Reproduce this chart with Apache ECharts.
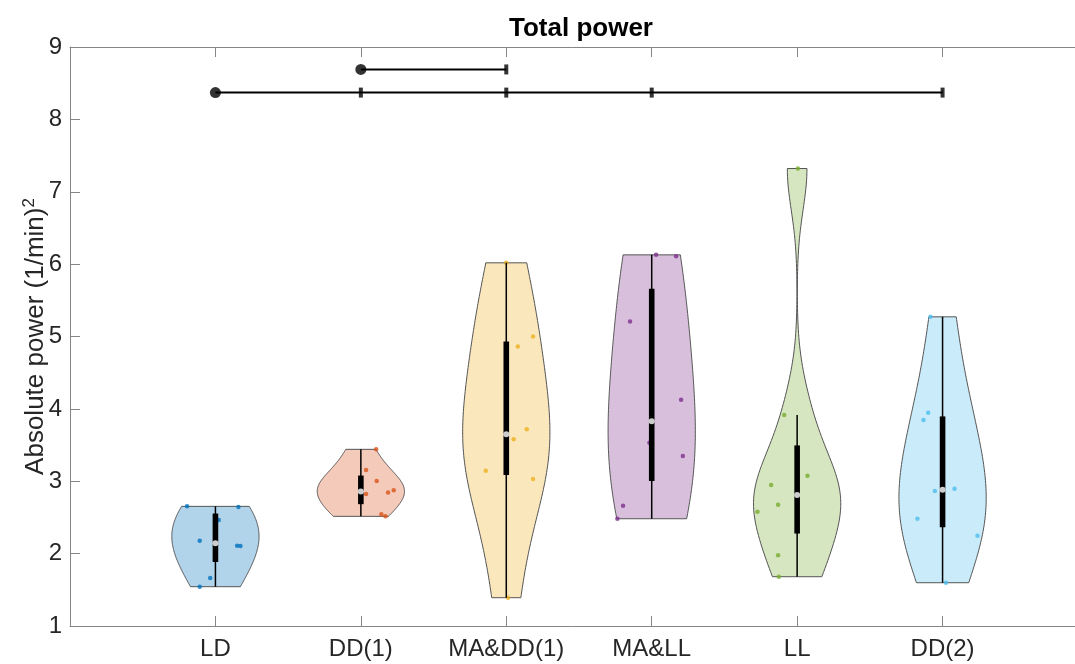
<!DOCTYPE html>
<html>
<head>
<meta charset="utf-8">
<title>Total power</title>
<script src="https://cdn.jsdelivr.net/npm/echarts@6/dist/echarts.min.js"></script>
<style>
  html, body { margin: 0; padding: 0; background: #ffffff; }
  #chart { width: 1075px; height: 664px; }
</style>
</head>
<body>
<div id="chart"></div>
<script>
// Groups along the x axis (positions 1..6)
const categories = ['LD', 'DD(1)', 'MA&DD(1)', 'MA&LL', 'LL', 'DD(2)'];
const groupColors = ['#0072BD', '#D95319', '#EDB120', '#7E2F8E', '#77AC30', '#4DBEEE'];

// Absolute power per subject, (1/min)^2
const valuesLD     = [2.653, 2.644, 2.464, 2.178, 2.109, 2.105, 1.663, 1.543];
const valuesDD1    = [3.441, 3.155, 3.003, 2.823, 2.846, 2.874, 2.543, 2.515];
const valuesMADD1  = [6.018, 5.001, 4.863, 3.717, 3.579, 3.145, 3.030, 1.391];
const valuesMALL   = [6.128, 6.110, 5.208, 4.126, 3.348, 3.532, 2.662, 2.482];
const valuesLL     = [7.321, 3.914, 3.076, 2.947, 2.676, 2.579, 1.976, 1.681];
const valuesDD2    = [5.272, 3.946, 3.845, 2.897, 2.865, 2.482, 2.247, 1.598];

// Horizontal scatter offset of each subject's dot from the group centre (x units)
const jitterLD     = [-0.195, 0.158, 0.023, -0.108, 0.149, 0.172, -0.036, -0.108];
const jitterDD1    = [0.105, 0.036, 0.109, 0.036, 0.187, 0.226, 0.141, 0.169];
const jitterMADD1  = [0.000, 0.184, 0.079, 0.141, 0.051, -0.141, 0.184, 0.012];
const jitterMALL   = [0.030, 0.168, -0.149, 0.202, 0.214, -0.016, -0.197, -0.236];
const jitterLL     = [0.005, -0.089, 0.071, -0.179, -0.131, -0.273, -0.131, -0.126];
const jitterDD2    = [-0.083, -0.099, -0.131, 0.082, -0.053, -0.173, 0.240, 0.023];

// Significant pairwise differences: reference group, groups it differs from, bar height
const sigFrom    = [1, 2];
const sigTargets = [[2, 3, 4, 6], [3]];
const sigLevel   = [8.37, 8.69];

// Axis ticks
const yTicks = [1, 2, 3, 4, 5, 6, 7, 8, 9];

const groupValues = [valuesLD, valuesDD1, valuesMADD1, valuesMALL, valuesLL, valuesDD2];
const groupJitter = [jitterLD, jitterDD1, jitterMADD1, jitterMALL, jitterLL, jitterDD2];

const FONT = '"Liberation Sans", Arial, Helvetica, sans-serif';
const TEXT = '#262626';
const AXIS = '#868686';
const VIOLIN_HALF_WIDTH = 0.3;

// ---- statistics helpers ----
function sorted(a) { return a.slice().sort((p, q) => p - q); }
function quantile(a, q) {
  // piecewise-linear quantile with plotting positions (i - 0.5) / n
  const s = sorted(a), n = s.length;
  const pos = n * q + 0.5;
  if (pos <= 1) return s[0];
  if (pos >= n) return s[n - 1];
  const lo = Math.floor(pos), f = pos - lo;
  return s[lo - 1] + f * (s[lo] - s[lo - 1]);
}
function median(a) { return quantile(a, 0.5); }
function bandwidth(a) {
  const m = median(a);
  const mad = median(a.map(v => Math.abs(v - m)));
  const sig = mad / 0.6745;
  return sig * Math.pow(4 / (3 * a.length), 0.2);
}
function density(a, at, h) {
  let s = 0;
  for (const v of a) { const z = (at - v) / h; s += Math.exp(-0.5 * z * z); }
  return s / (a.length * h * Math.sqrt(2 * Math.PI));
}
function violinOutline(a, pos) {
  const lo = Math.min(...a), hi = Math.max(...a), h = bandwidth(a);
  const N = 100, ys = [], ds = [];
  for (let k = 0; k < N; k++) {
    const y = lo + (hi - lo) * k / (N - 1);
    ys.push(y); ds.push(density(a, y, h));
  }
  const scale = VIOLIN_HALF_WIDTH / Math.max(...ds);
  const right = ys.map((y, k) => [pos + ds[k] * scale, y]);
  const left = ys.map((y, k) => [pos - ds[k] * scale, y]).reverse();
  return right.concat(left);
}
function boxStats(a) {
  const q1 = quantile(a, 0.25), q3 = quantile(a, 0.75), iqr = q3 - q1;
  const inside = a.filter(v => v >= q1 - 1.5 * iqr && v <= q3 + 1.5 * iqr);
  return { q1, q3, med: median(a), lo: Math.min(...inside), hi: Math.max(...inside) };
}
function hexToRgba(hex, alpha) {
  const n = parseInt(hex.slice(1), 16);
  return `rgba(${(n >> 16) & 255},${(n >> 8) & 255},${n & 255},${alpha})`;
}

// ---- series ----
const series = [];

// violin bodies
series.push({
  type: 'custom',
  silent: true,
  z: 1,
  data: categories.map((c, i) => [i + 1, Math.min(...groupValues[i]), Math.max(...groupValues[i])]),
  encode: { x: 0, y: [1, 2] },
  renderItem: (params, api) => {
    const i = params.dataIndex;
    const pts = violinOutline(groupValues[i], i + 1).map(p => api.coord(p));
    return {
      type: 'polygon',
      shape: { points: pts },
      style: { fill: hexToRgba(groupColors[i], 0.3), stroke: '#555555', lineWidth: 1 }
    };
  }
});

// individual subjects
categories.forEach((c, i) => {
  series.push({
    type: 'scatter',
    name: c,
    silent: true,
    z: 2,
    symbol: 'circle',
    symbolSize: 4.5,
    itemStyle: { color: groupColors[i] },
    data: groupValues[i].map((v, k) => [i + 1 + groupJitter[i][k], v])
  });
});

// whisker line and interquartile box
series.push({
  type: 'custom',
  silent: true,
  z: 3,
  data: categories.map((c, i) => [i + 1]),
  encode: { x: 0 },
  renderItem: (params, api) => {
    const i = params.dataIndex, pos = i + 1;
    const st = boxStats(groupValues[i]);
    const wLo = api.coord([pos, st.lo]), wHi = api.coord([pos, st.hi]);
    const bLo = api.coord([pos, st.q1]), bHi = api.coord([pos, st.q3]);
    const bw = 5.6;
    return {
      type: 'group',
      children: [
        { type: 'line', shape: { x1: wLo[0], y1: wLo[1], x2: wHi[0], y2: wHi[1] },
          style: { stroke: '#000000', lineWidth: 1.5 } },
        { type: 'rect', shape: { x: bHi[0] - bw / 2, y: bHi[1], width: bw, height: bLo[1] - bHi[1] },
          style: { fill: '#000000' } }
      ]
    };
  }
});

// medians
series.push({
  type: 'scatter',
  silent: true,
  z: 4,
  symbol: 'circle',
  symbolSize: 6,
  itemStyle: { color: '#ffffff' },
  data: categories.map((c, i) => [i + 1, median(groupValues[i])])
});

// significance bars
sigFrom.forEach((from, r) => {
  const level = sigLevel[r];
  const last = Math.max(...sigTargets[r]);
  series.push({
    type: 'line',
    silent: true,
    z: 5,
    symbol: 'none',
    lineStyle: { color: '#000000', width: 2 },
    data: [[from, level], [last, level]]
  });
  series.push({
    type: 'scatter',
    silent: true,
    z: 6,
    symbol: 'circle',
    symbolSize: 11,
    itemStyle: { color: '#000000' },
    data: [[from, level]]
  });
  series.push({
    type: 'scatter',
    silent: true,
    z: 6,
    symbol: 'rect',
    symbolSize: [4, 10],
    itemStyle: { color: '#000000' },
    data: sigTargets[r].map(t => [t, level])
  });
});

const xAxisCommon = {
  type: 'value',
  min: 0,
  max: 7,
  interval: 1,
  splitLine: { show: false },
  axisLine: { show: true, onZero: false, lineStyle: { color: AXIS, width: 1 } },
  axisTick: { show: true, inside: true, length: 10, lineStyle: { color: AXIS, width: 1 } }
};
const yAxisCommon = {
  type: 'value',
  min: yTicks[0],
  max: yTicks[yTicks.length - 1],
  interval: 1,
  splitLine: { show: false },
  axisLine: { show: true, onZero: false, lineStyle: { color: AXIS, width: 1 } },
  axisTick: { show: true, inside: true, length: 10, lineStyle: { color: AXIS, width: 1 } }
};

const option = {
  animation: false,
  backgroundColor: '#ffffff',
  title: {
    text: 'Total power',
    left: 504,
    top: 11,
    textStyle: { fontFamily: FONT, fontSize: 26, fontWeight: 'bold', color: '#000000' }
  },
  // the plot box runs past the right edge of the canvas
  grid: { left: 70, top: 47, right: -13, bottom: 38, containLabel: false, outerBoundsMode: 'none' },
  xAxis: [
    Object.assign({}, xAxisCommon, {
      position: 'bottom',
      axisLabel: {
        margin: 11,
        fontFamily: FONT, fontSize: 24, color: TEXT,
        formatter: v => (v >= 1 && v <= categories.length) ? categories[v - 1] : ''
      }
    }),
    Object.assign({}, xAxisCommon, { position: 'top', axisLabel: { show: false } })
  ],
  yAxis: [
    Object.assign({}, yAxisCommon, {
      position: 'left',
      axisLabel: { margin: 8, fontFamily: FONT, fontSize: 24, color: TEXT },
      name: 'Absolute power (1/min){sup|2}',
      nameLocation: 'middle',
      nameRotate: 90,
      nameGap: 20,
      nameMoveOverlap: false,
      nameTextStyle: {
        fontFamily: FONT, fontSize: 26, color: TEXT,
        rich: { sup: { fontFamily: FONT, fontSize: 17, color: TEXT, padding: [0, 0, 12, 0] } }
      }
    }),
    Object.assign({}, yAxisCommon, { position: 'right', axisLabel: { show: false } })
  ],
  series: series
};

const chart = echarts.init(document.getElementById('chart'), null, { renderer: 'canvas' });
chart.setOption(option);
</script>
</body>
</html>
